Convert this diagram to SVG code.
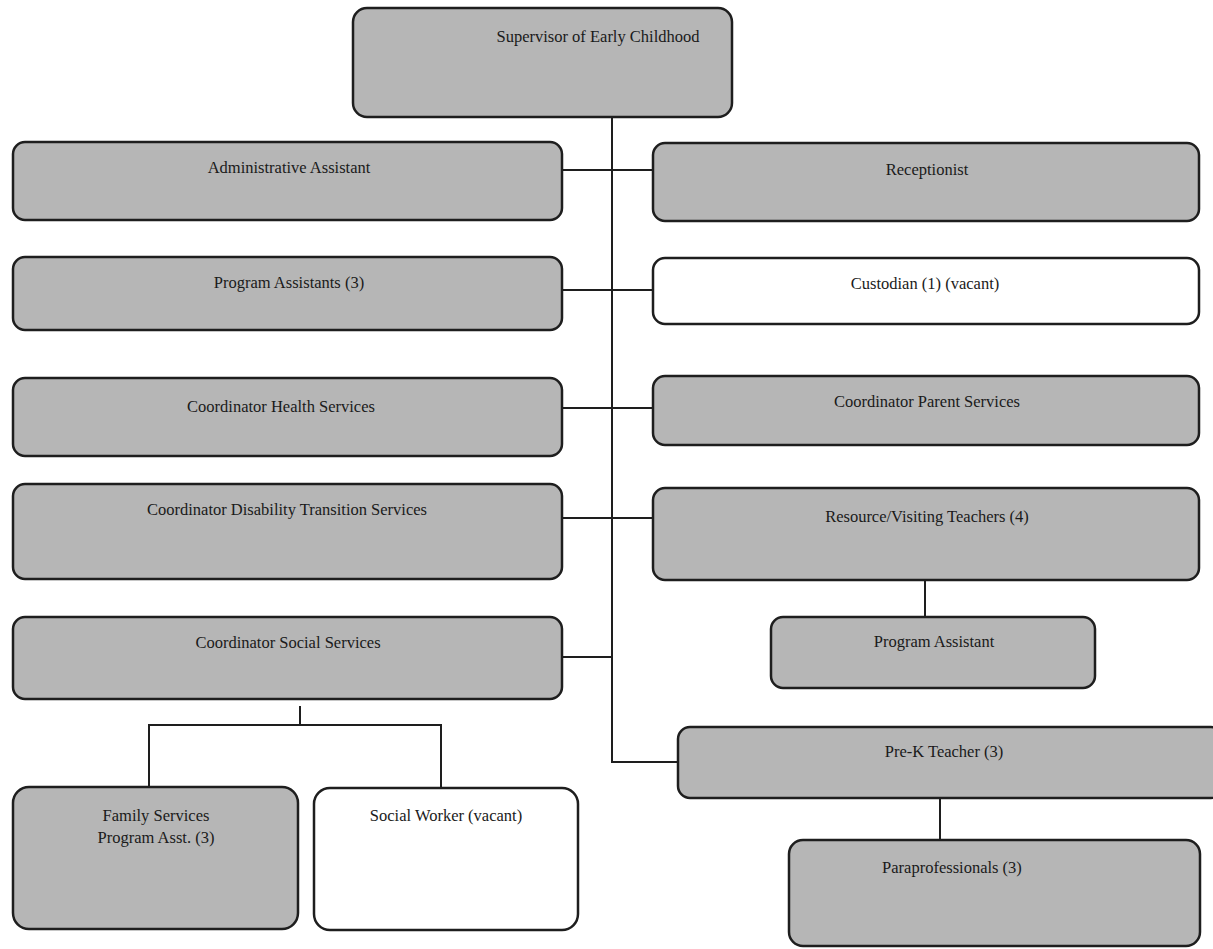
<svg xmlns="http://www.w3.org/2000/svg" width="1213" height="949" viewBox="0 0 1213 949">
<style>
.box{fill:#b6b6b6;stroke:#1e1e1e;stroke-width:2.5}
.vac{fill:#ffffff;stroke:#1e1e1e;stroke-width:2.5}
.t{font-family:'Liberation Serif','Times New Roman',serif;font-size:16.5px;fill:#1a1a1a;text-anchor:middle}
.c{fill:none;stroke:#1e1e1e;stroke-width:2}
</style>
<rect width="1213" height="949" fill="#ffffff"/>
<g id="connectors">
<path class="c" d="M612 117 V762 H678"/>
<path class="c" d="M562 170 H653"/>
<path class="c" d="M562 290 H653"/>
<path class="c" d="M562 408 H653"/>
<path class="c" d="M562 518 H653"/>
<path class="c" d="M562 657 H612"/>
<path class="c" d="M925 580 V617"/>
<path class="c" d="M940 798 V840"/>
<path class="c" d="M300 706 V725 M149 787 V725 H441 V788"/>
</g>
<g id="supervisor"><rect class="box" x="353" y="8" width="379" height="109" rx="14"/><text class="t" x="598" y="42">Supervisor of Early Childhood</text></g>
<g id="admin"><rect class="box" x="13" y="142" width="549" height="78" rx="12"/><text class="t" x="289" y="173">Administrative Assistant</text></g>
<g id="receptionist"><rect class="box" x="653" y="143" width="546" height="78" rx="12"/><text class="t" x="927" y="175">Receptionist</text></g>
<g id="program-assistants"><rect class="box" x="13" y="257" width="549" height="73" rx="12"/><text class="t" x="289" y="288">Program Assistants (3)</text></g>
<g id="custodian"><rect class="vac" x="653" y="258" width="546" height="66" rx="12"/><text class="t" x="925" y="289">Custodian (1) (vacant)</text></g>
<g id="health"><rect class="box" x="13" y="378" width="549" height="78" rx="12"/><text class="t" x="281" y="412">Coordinator Health Services</text></g>
<g id="parent"><rect class="box" x="653" y="376" width="546" height="69" rx="12"/><text class="t" x="927" y="407">Coordinator Parent Services</text></g>
<g id="disability"><rect class="box" x="13" y="484" width="549" height="95" rx="12"/><text class="t" x="287" y="515">Coordinator Disability Transition Services</text></g>
<g id="resource"><rect class="box" x="653" y="488" width="546" height="92" rx="12"/><text class="t" x="927" y="522">Resource/Visiting Teachers (4)</text></g>
<g id="prog-assistant"><rect class="box" x="771" y="617" width="324" height="71" rx="12"/><text class="t" x="934" y="647">Program Assistant</text></g>
<g id="social"><rect class="box" x="13" y="617" width="549" height="82" rx="12"/><text class="t" x="288" y="648">Coordinator Social Services</text></g>
<g id="family"><rect class="box" x="13" y="787" width="285" height="142" rx="16"/><text class="t" x="156" y="821">Family Services</text><text class="t" x="156" y="843">Program Asst. (3)</text></g>
<g id="social-worker"><rect class="vac" x="314" y="788" width="264" height="142" rx="16"/><text class="t" x="446" y="821">Social Worker (vacant)</text></g>
<g id="prek"><rect class="box" x="678" y="727" width="545" height="71" rx="12"/><text class="t" x="944" y="757">Pre-K Teacher (3)</text></g>
<g id="para"><rect class="box" x="789" y="840" width="411" height="106" rx="14"/><text class="t" x="952" y="873">Paraprofessionals (3)</text></g>
</svg>
